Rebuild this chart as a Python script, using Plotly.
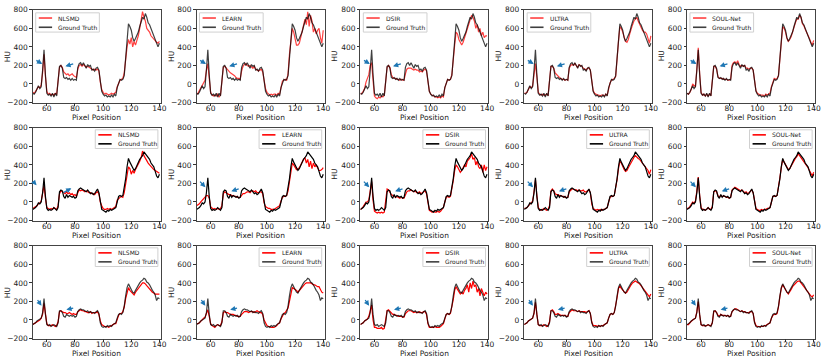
import plotly.graph_objects as go
from plotly.subplots import make_subplots

pixel_pos = list(range(50, 141))
methods = ['NLSMD', 'LEARN', 'DSIR', 'ULTRA', 'SOUL-Net']

# ---- row 1 ----
gt_row1 = [-100, -110, -90, -60, -20, -50, -30, 150, 370, 100,
           -100, -120, -110, -130, -100, -140, -100, -130, 40, 190,
           200, 170, 70, 60, 70, 50, 60, 40, 60, 40,
           50, 40, 180, 220, 230, 200, 230, 200, 170, 210,
           190, 200, 150, 160, 140, 170, 180, 150, 0, -80,
           -110, -130, -120, -140, -130, -140, -120, -140, -110, -130,
           -40, 20, 50, 40, 50, 90, 300, 480, 650, 620,
           580, 500, 460, 490, 520, 560, 620, 680, 720, 700,
           760, 720, 660, 640, 600, 560, 520, 480, 440, 400, 440]
nlsmd_row1 = [-90, -100, -80, -50, -30, -40, -10, 120, 320, 80,
              -80, -110, -100, -120, -110, -120, -100, -110, 30, 180,
              200, 180, 130, 110, 100, 110, 90, 100, 110, 90,
              80, 70, 160, 200, 210, 190, 210, 190, 180, 190,
              180, 170, 160, 150, 160, 150, 160, 140, 20, -60,
              -90, -110, -100, -110, -120, -110, -100, -110, -100, -90,
              -30, 10, 40, 50, 60, 120, 280, 400, 480, 430,
              500, 400, 460, 420, 470, 520, 600, 700, 780, 720,
              680, 600, 580, 560, 520, 500, 480, 460, 450, 440, 460]
learn_row1 = [-110, -100, -70, -40, -10, 20, 40, 150, 220, 60,
              -90, -120, -130, -120, -130, -110, -140, -120, 30, 180,
              190, 170, 150, 140, 120, 110, 100, 90, 70, 60,
              60, 50, 140, 190, 210, 220, 200, 190, 200, 180,
              170, 190, 160, 150, 140, 150, 160, 130, 30, -50,
              -90, -110, -120, -110, -120, -110, -110, -120, -100, -110,
              -20, 30, 40, 50, 40, 110, 320, 460, 600, 560,
              480, 420, 420, 440, 500, 560, 620, 700, 640, 780,
              620, 740, 680, 560, 600, 540, 580, 600, 500, 440, 580]
dsir_row1 = [-110, -100, -80, -50, 20, 60, 100, 200, 230, 40,
             -130, -150, -160, -140, -150, -130, -140, -120, 40, 180,
             200, 180, 100, 70, 60, 60, 50, 50, 40, 50,
             40, 40, 110, 160, 170, 170, 170, 160, 150, 160,
             150, 150, 130, 140, 130, 150, 160, 140, 10, -80,
             -110, -120, -130, -140, -140, -150, -140, -150, -130, -140,
             -40, 20, 50, 40, 50, 100, 300, 420, 560, 540,
             480, 450, 420, 450, 500, 540, 600, 640, 700, 740,
             720, 680, 600, 640, 560, 600, 520, 560, 500, 520, 520]
ultra_row1 = [-100, -100, -90, -60, -30, -40, -20, 100, 220, 80,
              -90, -110, -120, -110, -120, -120, -110, -120, 50, 190,
              190, 170, 120, 100, 90, 70, 60, 50, 50, 40,
              50, 40, 170, 200, 210, 200, 220, 200, 180, 210,
              200, 190, 170, 160, 150, 170, 170, 150, 10, -70,
              -100, -110, -120, -120, -130, -120, -120, -130, -110, -120,
              -50, 10, 40, 50, 60, 80, 300, 460, 620, 600,
              560, 500, 460, 450, 480, 540, 600, 640, 680, 700,
              720, 680, 640, 620, 580, 560, 560, 540, 480, 440, 520]
soul_row1 = [-100, -110, -90, -60, 0, -20, -30, 160, 390, 110,
             -90, -120, -110, -130, -110, -130, -110, -120, 40, 190,
             190, 160, 80, 60, 60, 60, 50, 50, 50, 40,
             40, 50, 200, 230, 240, 220, 250, 210, 190, 200,
             190, 200, 170, 170, 160, 170, 170, 150, 10, -70,
             -100, -110, -120, -120, -120, -130, -110, -120, -110, -100,
             -30, 30, 60, 50, 60, 90, 300, 470, 620, 600,
             560, 490, 460, 480, 510, 560, 620, 660, 700, 700,
             740, 720, 650, 630, 590, 560, 520, 490, 450, 420, 470]

# ---- row 2 ----
gt_row2 = [-80, -70, -60, -40, -10, -20, 0, 100, 260, 60,
           -70, -90, -80, -90, -80, -60, -80, -90, -60, 110,
           130, 120, 60, 40, 80, 50, 70, 60, 50, 60,
           40, 50, 120, 140, 150, 140, 130, 120, 110, 130,
           110, 90, 100, 80, 90, 120, 140, 100, -20, -80,
           -90, -100, -110, -90, -100, -80, -90, -80, -70, -60,
           0, 60, 70, 60, 70, 150, 250, 380, 470, 430,
           400, 360, 340, 360, 400, 420, 460, 480, 500, 540,
           520, 500, 470, 460, 420, 400, 380, 330, 280, 260, 300]
nlsmd_row2 = [-70, -60, -50, -40, -20, -10, 10, 80, 180, 40,
              -60, -70, -80, -70, -80, -60, -70, -80, -40, 90,
              120, 110, 100, 90, 110, 90, 100, 80, 90, 70,
              80, 60, 100, 130, 120, 130, 120, 110, 120, 110,
              100, 100, 90, 90, 80, 100, 110, 90, 0, -40,
              -70, -80, -80, -70, -80, -70, -80, -70, -60, -50,
              20, 40, 50, 60, 50, 100, 200, 320, 380, 360,
              300, 340, 310, 350, 380, 400, 440, 480, 550, 500,
              470, 440, 420, 400, 380, 370, 350, 340, 330, 320, 310]
learn_row2 = [-40, -30, -20, 0, 20, 40, 60, 70, 70, 40,
              -50, -70, -80, -70, -80, -70, -80, -70, -40, 90,
              110, 100, 90, 80, 80, 70, 70, 60, 60, 50,
              50, 50, 70, 90, 90, 100, 110, 110, 100, 120,
              120, 110, 120, 100, 100, 110, 110, 90, -10, -50,
              -60, -70, -70, -80, -80, -80, -70, -60, -50, -40,
              10, 50, 60, 60, 70, 120, 220, 340, 420, 400,
              380, 350, 360, 370, 400, 440, 460, 480, 420, 460,
              380, 440, 360, 420, 380, 400, 360, 340, 340, 350, 370]
dsir_row2 = [-80, -70, -50, -30, 0, 0, 20, 120, 220, 20,
             -100, -110, -120, -110, -120, -110, -120, -110, 40, 140,
             130, 100, 80, 70, 60, 50, 60, 50, 40, 50,
             40, 40, 80, 110, 120, 120, 130, 120, 110, 120,
             100, 100, 110, 90, 100, 110, 120, 90, -30, -90,
             -100, -110, -100, -110, -110, -100, -110, -100, -80, -60,
             0, 50, 60, 50, 60, 130, 230, 340, 400, 380,
             350, 320, 340, 380, 400, 380, 440, 460, 480, 520,
             460, 480, 400, 440, 380, 360, 400, 320, 400, 340, 380]
ultra_row2 = [-70, -70, -60, -40, -20, -10, 10, 110, 240, 70,
              -60, -80, -90, -80, -70, -80, -90, -80, -40, 120,
              140, 120, 90, 80, 80, 70, 70, 60, 60, 50,
              50, 50, 110, 130, 140, 140, 130, 130, 120, 130,
              120, 120, 130, 110, 110, 120, 130, 100, -20, -70,
              -80, -90, -80, -90, -80, -90, -80, -80, -70, -60,
              0, 50, 60, 60, 70, 140, 240, 360, 440, 420,
              380, 350, 330, 340, 370, 400, 430, 460, 480, 500,
              480, 470, 460, 440, 420, 390, 370, 360, 340, 300, 350]
soul_row2 = [-70, -70, -50, -30, 0, -10, 10, 120, 270, 70,
             -60, -80, -80, -90, -70, -60, -80, -80, -50, 110,
             120, 110, 70, 50, 70, 60, 60, 60, 50, 50,
             40, 50, 130, 150, 160, 150, 140, 130, 120, 130,
             110, 100, 110, 90, 100, 120, 130, 100, -10, -70,
             -80, -90, -90, -80, -90, -80, -80, -70, -70, -60,
             0, 60, 60, 60, 70, 150, 260, 370, 460, 430,
             400, 370, 350, 360, 390, 410, 450, 470, 490, 520,
             500, 480, 460, 440, 410, 390, 370, 340, 300, 280, 320]

# ---- row 3 ----
gt_row3 = [-50, -40, -30, -10, 0, 10, 20, 80, 230, 60,
           -50, -60, -50, -70, -60, -50, -60, -70, -30, 100,
           100, 80, 40, 30, 60, 50, 40, 50, 40, 50,
           30, 40, 90, 110, 120, 110, 110, 100, 90, 100,
           80, 90, 80, 80, 70, 90, 100, 70, -30, -70,
           -80, -70, -80, -60, -70, -60, -70, -50, -40, -30,
           20, 60, 70, 60, 80, 150, 260, 350, 390, 350,
           330, 300, 290, 320, 350, 380, 400, 420, 430, 450,
           440, 410, 400, 380, 340, 320, 300, 270, 210, 240, 230]
nlsmd_row3 = [-50, -40, -30, -20, -10, 0, 20, 60, 180, 40,
              -40, -60, -60, -60, -50, -60, -70, -60, -20, 90,
              100, 90, 80, 80, 70, 70, 80, 70, 60, 70,
              60, 60, 90, 100, 110, 100, 100, 90, 90, 80,
              80, 90, 70, 80, 80, 80, 90, 60, -10, -50,
              -60, -70, -70, -70, -80, -70, -60, -50, -40, -40,
              10, 50, 70, 70, 90, 140, 230, 310, 350, 320,
              300, 290, 270, 300, 320, 340, 370, 390, 400, 400,
              390, 370, 350, 340, 320, 300, 290, 280, 280, 280, 280]
learn_row3 = [-40, -40, -30, -10, 0, 20, 30, 70, 110, 40,
              -40, -60, -70, -80, -60, -50, -60, -60, -20, 80,
              90, 80, 80, 70, 60, 60, 60, 50, 50, 40,
              40, 40, 60, 80, 90, 90, 90, 80, 90, 90,
              90, 80, 90, 100, 90, 80, 80, 60, 0, -40,
              -60, -70, -70, -80, -80, -80, -70, -60, -40, -30,
              10, 50, 70, 80, 100, 130, 200, 300, 350, 340,
              330, 320, 300, 320, 340, 360, 380, 390, 400, 400,
              400, 400, 390, 380, 380, 370, 360, 360, 330, 300, 290]
dsir_row3 = [-50, -40, -30, -10, 0, 10, 40, 100, 160, 0,
             -80, -80, -90, -90, -90, -80, -100, -90, 20, 100,
             110, 90, 70, 60, 60, 50, 50, 40, 40, 40,
             30, 30, 70, 90, 100, 100, 100, 90, 80, 90,
             80, 80, 90, 80, 80, 90, 90, 60, -40, -80,
             -80, -80, -80, -70, -80, -80, -80, -70, -50, -40,
             10, 60, 70, 60, 70, 140, 220, 320, 360, 330,
             300, 280, 300, 280, 320, 340, 380, 300, 400, 340,
             420, 360, 380, 300, 340, 260, 340, 300, 260, 300, 280]
ultra_row3 = [-50, -40, -30, -10, 0, 10, 20, 70, 190, 60,
              -50, -60, -60, -60, -50, -60, -70, -60, -20, 100,
              110, 90, 60, 60, 70, 60, 50, 50, 50, 50,
              40, 40, 80, 100, 110, 100, 100, 100, 90, 100,
              90, 90, 90, 90, 80, 90, 100, 70, -20, -60,
              -60, -60, -70, -60, -70, -60, -60, -50, -40, -30,
              20, 60, 70, 60, 80, 150, 240, 340, 370, 340,
              320, 300, 290, 300, 330, 360, 380, 400, 410, 420,
              410, 400, 390, 370, 350, 330, 320, 300, 270, 250, 280]
soul_row3 = [-50, -50, -30, -10, 0, 10, 20, 90, 200, 50,
             -50, -60, -60, -60, -60, -50, -60, -60, -30, 90,
             100, 80, 50, 40, 60, 50, 50, 50, 40, 50,
             40, 40, 90, 110, 120, 120, 110, 100, 90, 100,
             90, 90, 80, 80, 80, 90, 90, 70, -20, -60,
             -70, -70, -70, -70, -70, -60, -60, -50, -40, -30,
             20, 50, 60, 60, 70, 140, 250, 340, 380, 350,
             320, 300, 280, 300, 330, 360, 380, 400, 410, 420,
             420, 400, 380, 360, 330, 310, 290, 280, 260, 250, 270]

ground_truth = [gt_row1, gt_row2, gt_row3]
recon = [
    [nlsmd_row1, learn_row1, dsir_row1, ultra_row1, soul_row1],
    [nlsmd_row2, learn_row2, dsir_row2, ultra_row2, soul_row2],
    [nlsmd_row3, learn_row3, dsir_row3, ultra_row3, soul_row3],
]

# blue arrows: (tail_x, tail_y, head_x, head_y)
arrows_row = [
    [(51.5, 265, 56.7, 215), (79.8, 222, 73.2, 190)],
    [(51.5, 236, 56.3, 158), (81, 148, 74.7, 116)],
    [(52.7, 232, 56.2, 154), (79.8, 133, 73.9, 110)],
]
arrows_row2_nlsmd = [(49.5, 236, 52.7, 180), (70.8, 92, 77.4, 148)]

W, H = 831, 364
col_left = [33, 198, 363, 528, 692]
plot_w = 129
row_top = [6, 127, 248]
plot_h = 95

FONT = 'DejaVu Sans'
TXT = '#222'
line_opacity = [(0.75, 0.75), (1.0, 1.0), (1.0, 0.75)]

fig = make_subplots(rows=3, cols=5)

for r in range(3):
    for c in range(5):
        n = r * 5 + c + 1
        sfx = '' if n == 1 else str(n)
        op_red, op_blk = line_opacity[r]
        fig.add_trace(go.Scatter(x=pixel_pos, y=recon[r][c], mode='lines',
                                 line=dict(color='red', width=1.2), opacity=op_red,
                                 showlegend=False, name=methods[c]), row=r + 1, col=c + 1)
        fig.add_trace(go.Scatter(x=pixel_pos, y=ground_truth[r], mode='lines',
                                 line=dict(color='black', width=1.2), opacity=op_blk,
                                 showlegend=False, name='Ground Truth'), row=r + 1, col=c + 1)

        x0 = col_left[c] / W
        x1 = (col_left[c] + plot_w) / W
        y1 = 1 - row_top[r] / H
        y0 = 1 - (row_top[r] + plot_h) / H
        fig.layout['xaxis' + sfx].domain = [x0, x1]
        fig.layout['yaxis' + sfx].domain = [y0, y1]
        xd, yd = 'x' + sfx + ' domain', 'y' + sfx + ' domain'

        # axis titles
        fig.add_annotation(xref=xd, yref=yd, x=0.5, y=-15.5 / plot_h, text='Pixel Position',
                           showarrow=False, xanchor='center', yanchor='middle',
                           font=dict(family=FONT, size=7.5, color=TXT))
        fig.add_annotation(xref=xd, yref=yd, x=-26 / plot_w, y=0.5, text='HU', textangle=-90,
                           showarrow=False, xanchor='center', yanchor='middle',
                           font=dict(family=FONT, size=7.5, color=TXT))

        # arrows
        arrs = arrows_row[r]
        if r == 1 and c == 0:
            arrs = arrows_row2_nlsmd
        for tx, ty, hx, hy in arrs:
            fig.add_annotation(x=hx, y=hy, ax=tx, ay=ty, xref='x' + sfx, yref='y' + sfx,
                               axref='x' + sfx, ayref='y' + sfx, showarrow=True,
                               arrowhead=2, arrowsize=0.8, arrowwidth=1.3,
                               arrowcolor='#1f77b4', text='')

        # hand drawn legend box
        if r == 0:
            bx0, bx1, by0, by1 = 0.023, 0.52, 0.76, 0.968
        else:
            bx0, bx1, by0, by1 = 0.488, 0.977, 0.777, 0.979
        fig.add_shape(type='rect', xref=xd, yref=yd, x0=bx0, x1=bx1, y0=by0, y1=by1,
                      line=dict(color='#d0d0d0', width=1), fillcolor='rgba(255,255,255,0.8)')
        entries = [(methods[c], 'red', op_red), ('Ground Truth', 'black', op_blk)]
        for k, (label, colr, op) in enumerate(entries):
            yy = by1 - (by1 - by0) * (0.27 + 0.48 * k)
            fig.add_shape(type='line', xref=xd, yref=yd, x0=bx0 + 0.024, x1=bx0 + 0.128,
                          y0=yy, y1=yy, line=dict(color=colr, width=1.6), opacity=op)
            fig.add_annotation(xref=xd, yref=yd, x=bx0 + 0.16, y=yy, text=label,
                               showarrow=False, xanchor='left', yanchor='middle',
                               font=dict(family=FONT, size=6, color=TXT))

fig.update_xaxes(range=[50, 141], tickvals=[60, 80, 100, 120, 140],
                 ticks='outside', ticklen=2.5, tickwidth=0.8, tickcolor='#333',
                 ticklabelstandoff=-4,
                 showline=True, linecolor='#444', linewidth=0.8, mirror=True,
                 showgrid=False, zeroline=False,
                 tickfont=dict(family=FONT, size=7.5, color=TXT))
fig.update_yaxes(range=[-200, 800], tickvals=[-200, 0, 200, 400, 600, 800],
                 ticks='outside', ticklen=2.5, tickwidth=0.8, tickcolor='#333',
                 showline=True, linecolor='#444', linewidth=0.8, mirror=True,
                 showgrid=False, zeroline=False,
                 tickfont=dict(family=FONT, size=7.5, color=TXT))

fig.update_layout(width=W, height=H, margin=dict(l=0, r=0, t=0, b=0),
                  plot_bgcolor='white', paper_bgcolor='white', showlegend=False,
                  font=dict(family=FONT))

# page body has a default 8px margin; drop it so the figure sits at the window origin
fig.write_html("out.html", config={'displayModeBar': False},
               post_script="document.body.style.margin='0px';")
